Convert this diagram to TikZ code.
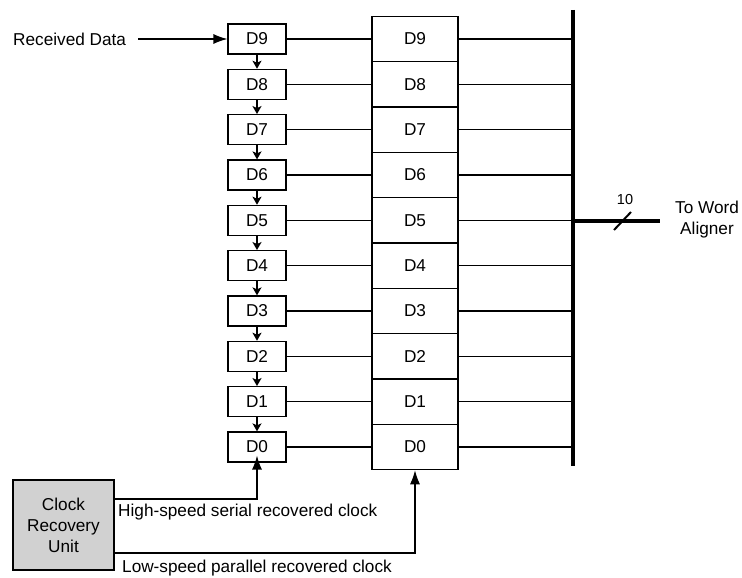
\documentclass[tikz,border=0pt]{standalone}
\usepackage{fontspec}
\setmainfont{Liberation Sans}
\usetikzlibrary{arrows.meta,calc}
\begin{document}
\begin{tikzpicture}[x=1pt,y=-1pt,
  txt/.style={font=\fontsize{17.2}{21}\selectfont},
  sbox/.style={draw,line width=1.2pt,minimum width=58pt,minimum height=30pt,inner sep=0pt,txt},
  bbox/.style={draw,line width=1.2pt,minimum width=86pt,minimum height=45.4pt,inner sep=0pt,txt},
  wire/.style={line width=1.2pt},
  bigtip/.style={-{Latex[length=14pt,width=10pt]}},
  smalltip/.style={-{Stealth[length=8pt,width=9pt,inset=2pt]}},
  busline/.style={line width=4.2pt}]
\useasboundingbox (0,0) rectangle (742,578);
% shift register and parallel register
\foreach \i in {9,...,0}{
  \pgfmathsetmacro{\yy}{39+45.33*(9-\i)}
  \node[sbox] (s\i) at (257,\yy) {D\i};
  \node[bbox] (b\i) at (415,\yy) {D\i};
}
% bus
\coordinate (bt) at (573,10);
\coordinate (bb) at (573,466);
\draw[busline] (bt) -- (bb);
\foreach \i in {9,...,0}{
  \draw[wire] (s\i.east) -- (b\i.west);
  \draw[wire] (b\i.east) -- (b\i.east -| bt);
}
\foreach \i/\j in {9/8,8/7,7/6,6/5,5/4,4/3,3/2,2/1,1/0}{
  \draw[line width=1.7pt,smalltip] (s\i.south) -- (s\j.north);
}
% received data
\node[txt,anchor=west,inner sep=0pt] (rd) at (13,39) {Received Data};
\draw[wire,bigtip] ([xshift=12pt]rd.east) -- (s9.west);
% output
\coordinate (outp) at (660,221);
\draw[busline] (outp -| bt) -- (outp);
\draw[line width=2pt] (614,230) -- (631,212);
\node[font=\fontsize{14.5}{16}\selectfont,inner sep=0pt] (ten) at (625,200) {10};
\node[txt,align=center,inner sep=0pt] (twa) at (707,220) {To Word\\Aligner};
% clock recovery
\node[draw,line width=1.2pt,fill=black!18,minimum width=101pt,minimum height=90pt,inner sep=0pt,align=center,txt] (cru) at (63.5,525) {Clock\\Recovery\\Unit};
\coordinate (hsy) at (0,499);
\coordinate (lsy) at (0,553);
\draw[wire,bigtip] (cru.east |- hsy) -| ([yshift=7pt]s0.south);
\draw[wire,bigtip] (cru.east |- lsy) -| (b0.south);
\node[txt,anchor=west,inner sep=0pt] (hsl) at (118,512) {High-speed serial recovered clock};
\node[txt,anchor=west,inner sep=0pt] (lsl) at (122,568) {Low-speed parallel recovered clock};
\end{tikzpicture}
\end{document}
